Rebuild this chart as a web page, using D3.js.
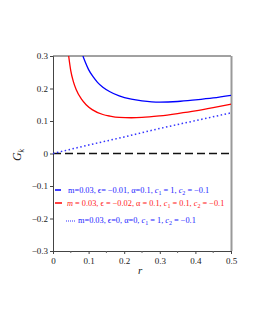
<!DOCTYPE html>
<html><head><meta charset="utf-8">
<script src="https://cdn.jsdelivr.net/npm/d3@7"></script>
<style>body{margin:0;background:#fff}svg{display:block}text{font-family:"Liberation Serif","DejaVu Serif",serif}</style>
</head><body><svg id="c" width="255" height="330"></svg>
<script>
const blueSolid = [[0.084,0.300],[0.09,0.283],[0.1,0.258],[0.112,0.237],[0.125,0.219],[0.14,0.204],[0.16,0.190],[0.186,0.177],[0.22,0.167],[0.25,0.162],[0.3,0.158],[0.35,0.160],[0.4,0.165],[0.45,0.171],[0.5,0.179]];
const redSolid = [[0.044,0.300],[0.05,0.254],[0.057,0.222],[0.065,0.197],[0.08,0.167],[0.093,0.150],[0.11,0.135],[0.14,0.120],[0.16,0.115],[0.186,0.111],[0.22,0.110],[0.25,0.111],[0.3,0.116],[0.35,0.123],[0.4,0.131],[0.45,0.141],[0.5,0.152]];
const blueDotted = [[0,0],[0.1,0.026],[0.2,0.051],[0.3,0.077],[0.4,0.101],[0.5,0.125]];
const zeroLine = [[0,0],[0.5,0]];
const xTicks = [0,0.1,0.2,0.3,0.4,0.5];
const yTicks = [-0.3,-0.2,-0.1,0,0.1,0.2,0.3];
const xTickLabels = ["0","0.1","0.2","0.3","0.4","0.5"];
const yTickLabels = ["\u22120.3","\u22120.2","\u22120.1","0","0.1","0.2","0.3"];

const svg = d3.select("#c");
const L=53, R=231, T=56, B=251;
const x = d3.scaleLinear().domain([0,0.5]).range([L,R]);
const y = d3.scaleLinear().domain([-0.3,0.3]).range([B,T]);

svg.append("defs").append("clipPath").attr("id","clip").append("rect")
  .attr("x",L).attr("y",T).attr("width",R-L).attr("height",B-T);

// frame
svg.append("line").attr("x1",L).attr("x2",R).attr("y1",T).attr("y2",T).attr("stroke","#444").attr("stroke-width",1);
svg.append("line").attr("x1",R+0.5).attr("x2",R+0.5).attr("y1",T).attr("y2",B).attr("stroke","#999").attr("stroke-width",2);

const xAxis = d3.axisBottom(x).tickValues(xTicks).tickFormat((d,i)=>xTickLabels[i]).tickSize(3).tickPadding(4);
const gx = svg.append("g").attr("transform",`translate(0,${B})`).call(xAxis);
gx.select(".domain").attr("stroke","#444");
gx.selectAll(".tick line").attr("stroke","#444");
gx.selectAll("text").attr("font-size",9).attr("fill","#222");
svg.append("g").selectAll("line").data(d3.range(0.05,0.5,0.1)).join("line")
  .attr("x1",d=>x(d)).attr("x2",d=>x(d)).attr("y1",B).attr("y2",B+2).attr("stroke","#666");

const yAxis = d3.axisLeft(y).tickValues(yTicks).tickFormat((d,i)=>yTickLabels[i]).tickSize(3).tickPadding(2);
const gy = svg.append("g").attr("transform",`translate(${L},0)`).call(yAxis);
gy.select(".domain").attr("stroke","#444");
gy.selectAll(".tick line").attr("stroke","#444");
gy.selectAll("text").attr("font-size",9).attr("fill","#222");

const line = d3.line().x(d=>x(d[0])).y(d=>y(d[1])).curve(d3.curveMonotoneX);
const plot = svg.append("g").attr("clip-path","url(#clip)");
plot.append("path").datum(zeroLine).attr("d",line).attr("fill","none").attr("stroke","#111").attr("stroke-width",1.3).attr("stroke-dasharray","8,4");
plot.append("path").datum(blueDotted).attr("d",line).attr("fill","none").attr("stroke","#3333ff").attr("stroke-width",1.5).attr("stroke-dasharray","1.5,2.5");
plot.append("path").datum(redSolid).attr("d",line).attr("fill","none").attr("stroke","#ff0000").attr("stroke-width",1.3);
plot.append("path").datum(blueSolid).attr("d",line).attr("fill","none").attr("stroke","#0000ff").attr("stroke-width",1.3);

svg.append("text").attr("transform","translate(21,155) rotate(-90)").attr("text-anchor","middle")
  .attr("font-size",12).attr("font-style","italic").attr("fill","#222")
  .html('G<tspan font-size="8" dy="3">k</tspan>');
svg.append("text").attr("x",x(0.245)).attr("y",274).attr("text-anchor","middle").attr("font-size",11).attr("font-style","italic").attr("fill","#222").text("r");

const leg = svg.append("g").attr("font-size",8.3);
leg.append("line").attr("x1",55).attr("x2",61).attr("y1",190).attr("y2",190).attr("stroke","#0000ff").attr("stroke-width",1.5);
leg.append("text").attr("x",68).attr("y",193).attr("fill","#1a1aff")
  .html('m=0.03, \u03f5= \u22120.01, \u03b1=0.1, <tspan font-style="italic">c</tspan><tspan font-size="6" dy="2">1</tspan><tspan dy="-2"> = 1, </tspan><tspan font-style="italic">c</tspan><tspan font-size="6" dy="2">2</tspan><tspan dy="-2"> = \u22120.1</tspan>');
leg.append("line").attr("x1",55).attr("x2",62).attr("y1",203).attr("y2",203).attr("stroke","#ff0000").attr("stroke-width",1.5);
leg.append("text").attr("x",67).attr("y",206).attr("fill","#ff2020")
  .html('<tspan font-style="italic">m</tspan> = 0.03, \u03f5 = \u22120.02, \u03b1 = 0.1, <tspan font-style="italic">c</tspan><tspan font-size="6" dy="2">1</tspan><tspan dy="-2"> = 0.1, </tspan><tspan font-style="italic">c</tspan><tspan font-size="6" dy="2">2</tspan><tspan dy="-2"> = \u22120.1</tspan>');
leg.append("line").attr("x1",66).attr("x2",76).attr("y1",221).attr("y2",221).attr("stroke","#3333ff").attr("stroke-width",1.2).attr("stroke-dasharray","1,1");
leg.append("text").attr("x",78).attr("y",223).attr("fill","#1a1aff")
  .html('m=0.03, \u03f5=0, \u03b1=0, <tspan font-style="italic">c</tspan><tspan font-size="6" dy="2">1</tspan><tspan dy="-2"> = 1, </tspan><tspan font-style="italic">c</tspan><tspan font-size="6" dy="2">2</tspan><tspan dy="-2"> = \u22120.1</tspan>');
</script></body></html>
